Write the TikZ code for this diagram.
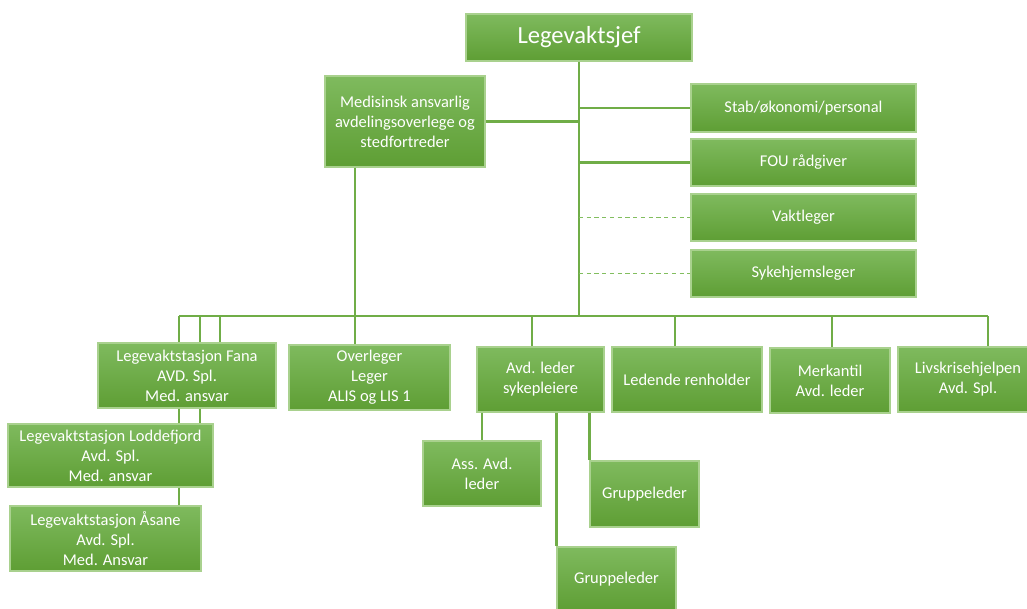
\documentclass[tikz,border=0pt]{standalone}
\usepackage{fontspec}
\setmainfont{Carlito}
\usepackage{tikz}
\usetikzlibrary{positioning}

\definecolor{grTop}{RGB}{127,186,94}
\definecolor{grMid}{RGB}{110,174,68}
\definecolor{grBot}{RGB}{94,158,52}
\definecolor{grEdge}{RGB}{169,209,142}
\definecolor{grLine}{RGB}{112,173,71}
\definecolor{grDash}{RGB}{130,190,95}

\begin{document}
\begin{tikzpicture}[
x=0.025cm,y=-0.025cm,
box/.style={
draw=grEdge,
line width=0.8pt,
top color=grTop,
middle color=grMid,
bottom color=grBot,
text=white,
inner sep=1pt,
minimum height=1.625cm,
align=center,
font=\fontsize{11.7}{14.2}\selectfont
},
sidebox/.style={
box,
minimum width=5.625cm,
minimum height=1.175cm
},
line/.style={draw=grLine,line width=1.7pt},
dline/.style={draw=grDash,line width=1.2pt,dash pattern=on 3pt off 2.5pt}
]
\useasboundingbox (0,0) rectangle (1027,608);

%---------------- Top ----------------%

\node[box,minimum width=5.65cm,minimum height=1.175cm,
font=\fontsize{17.5}{20}\selectfont] (chief) at (579,37.5) {Legevaktsjef};

\node[box,minimum width=4cm,minimum height=2.275cm] (med) at (405,121.5)
{Medisinsk ansvarlig\\avdelingsoverlege og\\stedfortreder};

\node[sidebox,minimum height=1.2cm] (stab) at (803.5,108) {Stab/økonomi/personal};

\node[sidebox] (fou) at (803.5,162.5) {FOU rådgiver};

\node[sidebox] (vakt) at (803.5,217.5) {Vaktleger};

\node[sidebox] (syke) at (803.5,273.5) {Sykehjemsleger};

%---------------- Bottom ----------------%

\node[box,minimum width=4.45cm] (fana) at (187,375.5)
{Legevaktstasjon Fana\\AVD. Spl.\\Med. ansvar};

\node[box,minimum width=5.125cm,minimum height=1.575cm] (lodde) at (110.5,455.5)
{Legevaktstasjon Loddefjord\\Avd. Spl.\\Med. ansvar};

\node[box,minimum width=4.775cm] (asane) at (105.5,538.5)
{Legevaktstasjon Åsane\\Avd. Spl.\\Med. Ansvar};

\node[box,minimum width=4.025cm] (over) at (369.5,377.5)
{Overleger\\Leger\\ALIS og LIS 1};

\node[box,minimum width=3.175cm] (avd) at (540.5,379.5)
{Avd. leder\\sykepleiere};

\node[box,minimum width=3.75cm] (renh) at (687,379.5)
{Ledende renholder};

\node[box,minimum width=3cm] (merk) at (830,380.5)
{Merkantil\\Avd. leder};

\node[box,minimum width=3.5cm] (livs) at (968,379.5)
{Livskrisehjelpen\\Avd. Spl.};

\node[box,minimum width=2.95cm] (ass) at (482,473.5)
{Ass. Avd.\\leder};

\node[box,minimum width=2.725cm,minimum height=1.65cm] (grp1) at (644.5,494)
{Gruppeleder};

\node[box,minimum width=2.975cm,minimum height=1.6cm] (grp2) at (616.5,579)
{Gruppeleder};

%---------------- Connections ----------------%

\coordinate (busL) at (179,316);
\coordinate (busR) at (988,316);
\coordinate (dLodde) at (200,316);
\coordinate (dFana) at (220,316);
\coordinate (dOver) at (355,316);
\coordinate (dAvd) at (532,316);
\coordinate (dRenh) at (675,316);
\coordinate (dMerk) at (832,316);

\draw[line] (chief.south)--(chief.south |- busL);
\draw[line] (busL)--(busR);

\draw[line] (med.east)--(med.east -| chief.south);
\draw[line] (stab.west -| chief.south)--(stab.west);
\draw[line] (fou.west -| chief.south)--(fou.west);
\draw[dline] (vakt.west -| chief.south)--(vakt.west);
\draw[dline] (syke.west -| chief.south)--(syke.west);

\draw[line] (busL)--(busL |- fana.north);
\draw[line] (busL |- fana.south)--(busL |- lodde.north);
\draw[line] (busL |- lodde.south)--(busL |- asane.north);
\draw[line] (dLodde)--(dLodde |- fana.north);
\draw[line] (dLodde |- fana.south)--(dLodde |- lodde.north);
\draw[line] (dFana)--(dFana |- fana.north);

\draw[line] (dOver |- med.south)--(dOver |- over.north);
\draw[line] (dAvd)--(dAvd |- avd.north);
\draw[line] (dRenh)--(dRenh |- renh.north);
\draw[line] (dMerk)--(dMerk |- merk.north);
\draw[line] (busR)--(busR |- livs.north);

\draw[line] (avd.south -| ass.north)--(ass.north);
\draw[line] (avd.south -| grp1.north west)--(grp1.north west);
\draw[line] (avd.south -| grp2.north west)--(grp2.north west);

\end{tikzpicture}
\end{document}
